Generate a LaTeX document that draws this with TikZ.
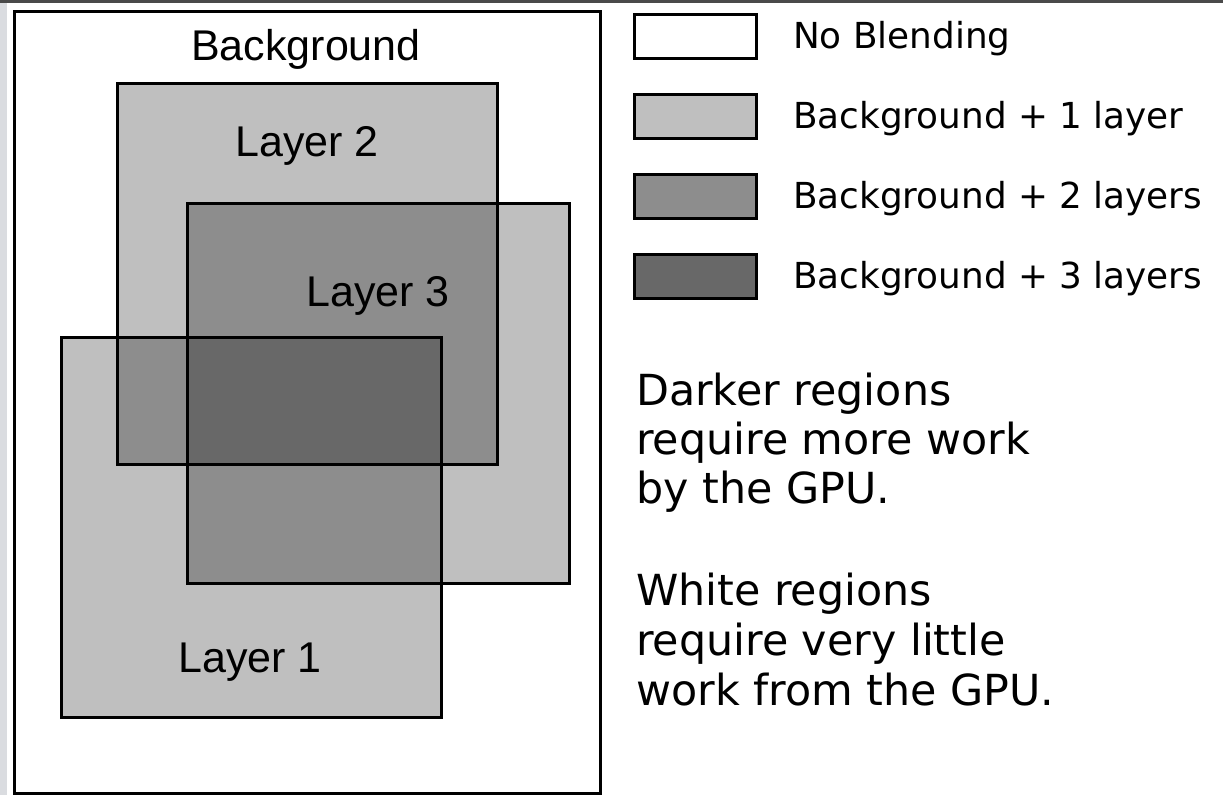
\documentclass[tikz,border=0pt]{standalone}
\usepackage{fontspec}
\setmainfont{DejaVu Sans}
\newfontfamily\labelfont{Liberation Sans}
\definecolor{oneL}{HTML}{BFBFBF}
\definecolor{twoL}{HTML}{8D8D8D}
\definecolor{threeL}{HTML}{686868}
\definecolor{edgestrip}{HTML}{DADCE0}
\definecolor{topstrip}{HTML}{4A4A4A}
\tikzset{
  outline/.style={draw=black, line width=3pt},
  layerlabel/.style={inner sep=0pt, anchor=base, font=\labelfont\fontsize{43}{50}\selectfont},
  keybox/.style={outline, rectangle, minimum width=122pt, minimum height=44pt, inner sep=0pt},
  keytext/.style={inner sep=0pt, anchor=base west, font=\fontsize{35.8}{42}\selectfont},
  notetext/.style={inner sep=0pt, anchor=base west, font=\fontsize{42.8}{50}\selectfont},
}
\begin{document}
\begin{tikzpicture}[x=1pt, y=-1pt]
\useasboundingbox (0,0) rectangle (1223,795);
\fill[white] (0,0) rectangle (1223,795);
% window edges
\fill[edgestrip] (0,0) rectangle (7,795);
\fill[topstrip] (0,0) rectangle (1223,3);

% background frame
\coordinate (bgA) at (14,11);
\coordinate (bgB) at (600,793);
\draw[outline, fill=white] (bgA) rectangle (bgB);
\node[layerlabel] (bglabel) at (306,60) {Background};

% layer areas
\coordinate (l2A) at (117,83);  \coordinate (l2B) at (497,464);
\coordinate (l3A) at (187,203); \coordinate (l3B) at (569,583);
\coordinate (l1A) at (61,337);  \coordinate (l1B) at (441,717);

\fill[oneL] (l2A) rectangle (l2B);
\fill[oneL] (l3A) rectangle (l3B);
\fill[oneL] (l1A) rectangle (l1B);

% two layers overlapping
\begin{scope}
  \clip (l2A) rectangle (l2B);
  \fill[twoL] (l3A) rectangle (l3B);
  \fill[twoL] (l1A) rectangle (l1B);
\end{scope}
\begin{scope}
  \clip (l3A) rectangle (l3B);
  \fill[twoL] (l1A) rectangle (l1B);
\end{scope}
% three layers overlapping
\begin{scope}
  \clip (l2A) rectangle (l2B);
  \clip (l3A) rectangle (l3B);
  \fill[threeL] (l1A) rectangle (l1B);
\end{scope}

\draw[outline] (l2A) rectangle (l2B);
\draw[outline] (l3A) rectangle (l3B);
\draw[outline] (l1A) rectangle (l1B);

\node[layerlabel] (lab2) at (307,156) {Layer 2};
\node[layerlabel] (lab3) at (378,306) {Layer 3};
\node[layerlabel] (lab1) at (250,672) {Layer 1};

% key
\node[keybox, fill=white]  (k0) at (695.8,36) {};
\node[keybox, fill=oneL]   (k1) at (695.8,116) {};
\node[keybox, fill=twoL]   (k2) at (695.8,196) {};
\node[keybox, fill=threeL] (k3) at (695.8,276) {};
\node[keytext] (t0) at (793,48)  {No Blending};
\node[keytext] (t1) at (793,128) {Background + 1 layer};
\node[keytext] (t2) at (793,208) {Background + 2 layers};
\node[keytext] (t3) at (793,288) {Background + 3 layers};

% notes
\node[notetext] (n1) at (636,405) {Darker regions};
\node[notetext] (n2) at (636,454) {require more work};
\node[notetext] (n3) at (636,503) {by the GPU.};
\node[notetext] (n4) at (636,605) {White regions};
\node[notetext] (n5) at (636,655) {require very little};
\node[notetext] (n6) at (636,705) {work from the GPU.};
\end{tikzpicture}
\end{document}
